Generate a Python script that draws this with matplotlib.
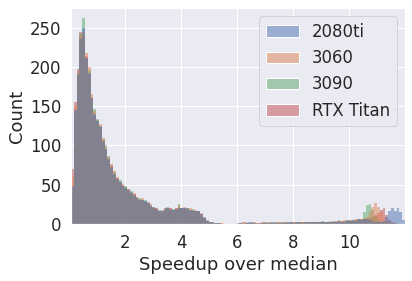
import numpy as np
import matplotlib
matplotlib.use("Agg")
import matplotlib.pyplot as plt
from matplotlib.patches import Patch
import seaborn as sns

# histogram bar heights, bins of 0.1 starting at 0.08
gpus = ["2080ti", "3060", "3090", "RTX Titan"]
bin_start = 0.08
bin_width = 0.1

counts_2080ti = [
    48, 145, 190, 236, 250, 212, 192, 160, 140, 131,
    125, 106, 96, 83, 73, 64, 57, 54, 49, 46,
    43, 40, 37, 33, 31, 30, 29, 27, 23, 21,
    19, 17, 16, 19, 20, 19, 18, 19, 21, 20,
    20, 19, 18, 17, 17, 16, 13, 8, 5, 3,
    2, 1, 1, 0, 0, 0, 0, 0, 0, 0,
    1, 0, 1, 2, 1, 1, 0, 1, 1, 2,
    1, 1, 2, 1, 1, 2, 1, 2, 2, 1,
    2, 2, 1, 2, 3, 2, 2, 3, 2, 2,
    3, 2, 3, 3, 2, 4, 3, 3, 5, 4,
    5, 4, 6, 5, 7, 6, 5, 4, 3, 2,
    2, 4, 9, 16, 21, 17, 20, 15, 5,
]
counts_3060 = [
    60, 150, 195, 240, 244, 218, 200, 165, 144, 128,
    127, 110, 98, 85, 76, 67, 60, 52, 51, 45,
    45, 38, 39, 35, 30, 33, 28, 26, 25, 20,
    21, 16, 18, 21, 19, 21, 17, 21, 24, 19,
    22, 18, 20, 16, 18, 15, 14, 7, 4, 2,
    1, 1, 0, 1, 0, 0, 0, 0, 0, 0,
    0, 1, 2, 1, 1, 2, 1, 1, 2, 1,
    2, 1, 1, 2, 2, 1, 3, 1, 2, 2,
    2, 3, 2, 2, 2, 3, 2, 2, 3, 3,
    2, 3, 4, 3, 3, 3, 4, 5, 4, 5,
    4, 6, 5, 7, 8, 9, 15, 22, 27, 22,
    15, 8, 4, 2, 1, 1, 0, 0, 0,
]
counts_3090 = [
    45, 140, 192, 242, 262, 210, 196, 158, 146, 134,
    122, 108, 100, 86, 72, 66, 56, 56, 48, 48,
    42, 42, 36, 32, 33, 29, 31, 25, 24, 22,
    18, 18, 15, 20, 22, 18, 19, 18, 25, 21,
    19, 21, 17, 19, 16, 17, 12, 8, 3, 3,
    1, 0, 1, 0, 0, 0, 0, 0, 0, 0,
    1, 0, 1, 1, 2, 1, 1, 0, 1, 1,
    1, 2, 1, 1, 2, 1, 2, 2, 3, 1,
    2, 2, 3, 1, 2, 2, 3, 2, 2, 4,
    3, 2, 3, 4, 3, 5, 3, 4, 4, 5,
    5, 4, 6, 7, 15, 24, 26, 18, 10, 6,
    3, 2, 1, 1, 0, 0, 0, 0, 0,
]
counts_titan = [
    70, 155, 198, 244, 240, 214, 190, 162, 138, 132,
    124, 104, 94, 82, 75, 62, 58, 53, 50, 47,
    44, 41, 38, 34, 32, 31, 28, 28, 22, 22,
    20, 17, 17, 18, 21, 20, 18, 20, 22, 20,
    21, 20, 18, 18, 17, 17, 13, 9, 4, 3,
    2, 1, 1, 1, 0, 0, 0, 0, 0, 1,
    1, 2, 1, 1, 2, 1, 1, 1, 2, 1,
    1, 2, 1, 2, 1, 1, 2, 1, 2, 2,
    1, 2, 2, 3, 2, 2, 2, 3, 2, 3,
    3, 3, 2, 3, 4, 3, 4, 3, 4, 4,
    4, 5, 5, 6, 6, 7, 8, 9, 12, 14,
    18, 20, 12, 5, 2, 1, 0, 0, 0,
]
all_counts = [counts_2080ti, counts_3060, counts_3090, counts_titan]

sns.set_theme(style="darkgrid", font_scale=1.5)
colors = sns.color_palette("deep", 4)

fig, ax = plt.subplots(figsize=(412 / 72, 281 / 72), dpi=72)
fig.subplots_adjust(left=71 / 412, right=405 / 412, bottom=1 - 224 / 281, top=1 - 8 / 281)

n_bins = len(counts_2080ti)
edges = bin_start + bin_width * np.arange(n_bins + 1)
centers = (edges[:-1] + edges[1:]) / 2

# seaborn layers hue levels in reverse, first level ends on top
for name, cnt, col in reversed(list(zip(gpus, all_counts, colors))):
    ax.hist(centers, bins=edges, weights=cnt, color=col, alpha=0.5, linewidth=0)

ax.set_xlim(edges[0], edges[-1])
ax.set_xticks([2, 4, 6, 8, 10])
ax.set_xlabel("Speedup over median")
ax.set_ylabel("Count")

handles = [Patch(facecolor=(*c, 0.5), edgecolor="white", linewidth=1) for c in colors]
ax.legend(handles, gpus, loc="upper right")

fig.savefig("out.png", dpi=72)
